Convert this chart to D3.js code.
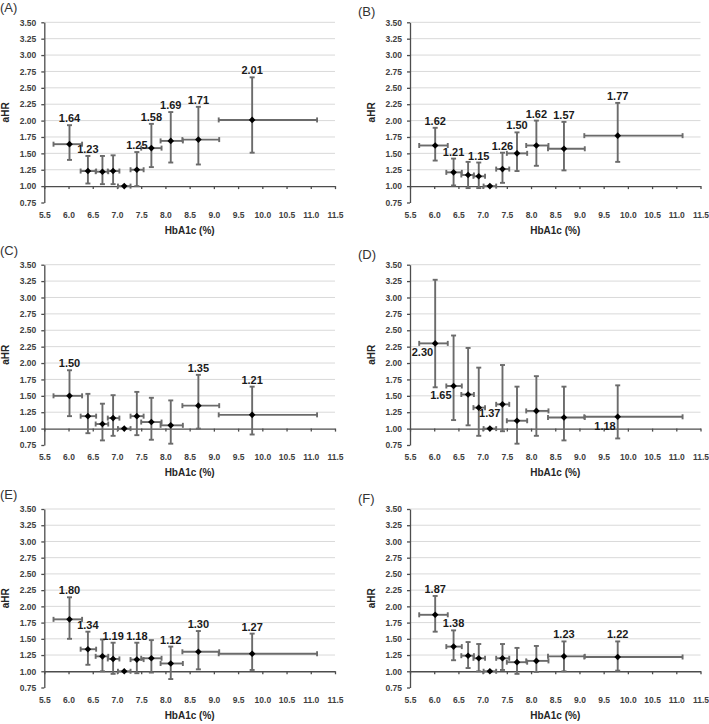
<!DOCTYPE html>
<html>
<head>
<meta charset="utf-8">
<script src="https://cdn.jsdelivr.net/npm/d3@7"></script>
<style>
body { margin: 0; background: #fff; }
svg { display: block; font-family: "Liberation Sans", Arial, sans-serif; }
</style>
</head>
<body>
<svg width="709" height="724"></svg>
<script>
// HbA1c categories (mean and range), shared by all panels
var hba1cMean = [6.02, 6.40, 6.70, 6.92, 7.15, 7.41, 7.71, 8.11, 8.68, 9.79];
var hba1cLo   = [5.69, 6.25, 6.56, 6.81, 7.02, 7.28, 7.50, 7.90, 8.35, 9.10];
var hba1cHi   = [6.28, 6.57, 6.82, 7.05, 7.28, 7.55, 7.92, 8.36, 9.11, 11.13];

var xTicks = [5.5, 6.0, 6.5, 7.0, 7.5, 8.0, 8.5, 9.0, 9.5, 10.0, 10.5, 11.0, 11.5];
var yTicks = [0.75, 1.00, 1.25, 1.50, 1.75, 2.00, 2.25, 2.50, 2.75, 3.00, 3.25, 3.50];
var panelNames = ["(A)", "(B)", "(C)", "(D)", "(E)", "(F)"];

var ahrA = [1.64, 1.23, 1.22, 1.23, 1.00, 1.25, 1.58, 1.69, 1.71, 2.01];
var loA  = [1.40, 1.04, 1.03, 1.03, 1.00, 1.00, 1.29, 1.36, 1.33, 1.51];
var hiA  = [1.93, 1.46, 1.46, 1.47, 1.00, 1.52, 1.95, 2.13, 2.21, 2.66];
var labA = [0, 1, 5, 6, 7, 8, 9];

var ahrB = [1.62, 1.21, 1.17, 1.15, 1.00, 1.26, 1.50, 1.62, 1.57, 1.77];
var loB  = [1.39, 1.01, 0.97, 0.97, 1.00, 1.05, 1.23, 1.31, 1.24, 1.37];
var hiB  = [1.89, 1.42, 1.37, 1.36, 1.00, 1.51, 1.82, 2.00, 1.98, 2.27];
var labB = [0, 1, 3, 5, 6, 7, 8, 9];

var ahrC = [1.50, 1.19, 1.07, 1.16, 1.00, 1.19, 1.10, 1.05, 1.35, 1.21];
var loC  = [1.19, 0.93, 0.82, 0.89, 1.00, 0.90, 0.83, 0.77, 1.00, 0.91];
var hiC  = [1.89, 1.53, 1.38, 1.51, 1.00, 1.56, 1.47, 1.43, 1.82, 1.64];
var labC = [0, 8, 9];

var ahrD = [2.30, 1.65, 1.52, 1.32, 1.00, 1.37, 1.12, 1.27, 1.17, 1.18];
var loD  = [1.63, 1.13, 1.05, 0.89, 1.00, 0.96, 0.77, 0.89, 0.82, 0.85];
var hiD  = [3.27, 2.42, 2.23, 1.93, 1.00, 1.97, 1.64, 1.80, 1.64, 1.66];
var labD = [0, 1, 5, 9];

var ahrE = [1.80, 1.34, 1.23, 1.19, 1.00, 1.18, 1.20, 1.12, 1.30, 1.27];
var loE  = [1.50, 1.10, 1.00, 0.96, 1.00, 0.97, 0.98, 0.88, 1.03, 1.02];
var hiE  = [2.14, 1.61, 1.49, 1.44, 1.00, 1.44, 1.48, 1.38, 1.62, 1.58];
var labE = [0, 1, 3, 5, 7, 8, 9];

var ahrF = [1.87, 1.38, 1.24, 1.20, 1.00, 1.20, 1.14, 1.16, 1.23, 1.22];
var loF  = [1.61, 1.17, 1.05, 1.00, 1.00, 1.02, 0.96, 0.99, 1.00, 1.01];
var hiF  = [2.16, 1.63, 1.45, 1.42, 1.00, 1.42, 1.36, 1.39, 1.46, 1.46];
var labF = [0, 1, 8, 9];

var panels = [
    { ahr: ahrA, lo: loA, hi: hiA, labels: labA },
    { ahr: ahrB, lo: loB, hi: hiB, labels: labB },
    { ahr: ahrC, lo: loC, hi: hiC, labels: labC },
    { ahr: ahrD, lo: loD, hi: hiD, labels: labD, below: true },
    { ahr: ahrE, lo: loE, hi: hiE, labels: labE },
    { ahr: ahrF, lo: loF, hi: hiF, labels: labF }
];

var svg = d3.select("svg");
var colX = [[44.3, 335], [410, 700.5]];
var rowY = [[22.3, 202.5], [264.7, 445], [509, 687.5]];
var barColor = "#6b6b6b";
var axisColor = "#4d4d4d";
var cap = 2.5;
var fmt2 = d3.format(".2f");

svg.append("rect").attr("width", 709).attr("height", 724).attr("fill", "#fff");

panels.forEach(function (p, i) {
    var col = i % 2, row = Math.floor(i / 2);
    var x = d3.scaleLinear().domain([5.5, 11.5]).range(colX[col]);
    var y = d3.scaleLinear().domain([0.75, 3.5]).range([rowY[row][1], rowY[row][0]]);
    var g = svg.append("g");

    var pts = hba1cMean.map(function (m, k) {
        return { x: m, xlo: hba1cLo[k], xhi: hba1cHi[k], y: p.ahr[k], lo: p.lo[k], hi: p.hi[k], k: k };
    });

    // gridlines
    g.append("g").selectAll("line")
        .data(yTicks.filter(function (t) { return t > 1; }))
        .enter().append("line")
        .attr("x1", x(5.5)).attr("x2", x(11.5))
        .attr("y1", function (d) { return y(d); })
        .attr("y2", function (d) { return y(d); })
        .attr("stroke", "#d9d9d9").attr("stroke-width", 1);

    // y axis
    var ya = g.append("g")
        .attr("transform", "translate(" + x(5.5) + ",0)")
        .call(d3.axisLeft(y).tickValues(yTicks).tickFormat(fmt2).tickSize(3).tickSizeOuter(0).tickPadding(5));

    // x axis line crossing at aHR = 1.00
    var xa = g.append("g")
        .attr("transform", "translate(0," + y(1) + ")")
        .call(d3.axisBottom(x).tickValues(xTicks).tickFormat("").tickSize(3).tickSizeOuter(0));

    // x tick labels placed low
    var xl = g.append("g")
        .attr("transform", "translate(0," + y(0.75) + ")")
        .call(d3.axisBottom(x).tickValues(xTicks).tickFormat(d3.format(".1f")).tickSize(0).tickPadding(9));
    xl.select(".domain").remove();

    [ya, xa, xl].forEach(function (a) {
        a.selectAll(".domain, line").attr("stroke", axisColor).attr("stroke-width", 1.3);
        a.selectAll("text").attr("fill", "#404040").style("font-size", "8.5px").style("font-weight", "bold");
    });

    // horizontal error bars
    var hb = g.append("g").attr("stroke", barColor).attr("stroke-width", 1.9);
    hb.selectAll(".hbar").data(pts).enter().append("line")
        .attr("x1", function (d) { return x(d.xlo); })
        .attr("x2", function (d) { return x(d.xhi); })
        .attr("y1", function (d) { return y(d.y); })
        .attr("y2", function (d) { return y(d.y); });
    hb.selectAll(".hcapL").data(pts).enter().append("line")
        .attr("x1", function (d) { return x(d.xlo); })
        .attr("x2", function (d) { return x(d.xlo); })
        .attr("y1", function (d) { return y(d.y) - cap; })
        .attr("y2", function (d) { return y(d.y) + cap; });
    hb.selectAll(".hcapR").data(pts).enter().append("line")
        .attr("x1", function (d) { return x(d.xhi); })
        .attr("x2", function (d) { return x(d.xhi); })
        .attr("y1", function (d) { return y(d.y) - cap; })
        .attr("y2", function (d) { return y(d.y) + cap; });

    // vertical error bars (reference category has none)
    var vpts = pts.filter(function (d) { return d.hi > d.lo; });
    var vb = g.append("g").attr("stroke", barColor).attr("stroke-width", 1.9);
    vb.selectAll(".vbar").data(vpts).enter().append("line")
        .attr("x1", function (d) { return x(d.x); })
        .attr("x2", function (d) { return x(d.x); })
        .attr("y1", function (d) { return y(d.lo); })
        .attr("y2", function (d) { return y(d.hi); });
    vb.selectAll(".vcapT").data(vpts).enter().append("line")
        .attr("x1", function (d) { return x(d.x) - cap; })
        .attr("x2", function (d) { return x(d.x) + cap; })
        .attr("y1", function (d) { return y(d.hi); })
        .attr("y2", function (d) { return y(d.hi); });
    vb.selectAll(".vcapB").data(vpts).enter().append("line")
        .attr("x1", function (d) { return x(d.x) - cap; })
        .attr("x2", function (d) { return x(d.x) + cap; })
        .attr("y1", function (d) { return y(d.lo); })
        .attr("y2", function (d) { return y(d.lo); });

    // diamonds
    g.append("g").selectAll("path").data(pts).enter().append("path")
        .attr("d", d3.symbol(d3.symbolSquare, 22))
        .attr("transform", function (d) { return "translate(" + x(d.x) + "," + y(d.y) + ") rotate(45)"; })
        .attr("fill", "#000");

    // value labels
    var lpts = pts.filter(function (d) { return p.labels.indexOf(d.k) >= 0; });
    g.append("g").selectAll("text").data(lpts).enter().append("text")
        .attr("x", function (d) { return p.below ? x(d.x) - 2 : x(d.x); })
        .attr("y", function (d) { return p.below ? y(d.y) + 13 : y(d.hi) - 3; })
        .attr("text-anchor", p.below ? "end" : "middle")
        .attr("fill", "#1a1a1a")
        .style("font-size", "11px").style("font-weight", "bold")
        .text(function (d) { return fmt2(d.y); });

    // axis titles
    var midY = (rowY[row][0] + rowY[row][1]) / 2;
    g.append("text")
        .attr("transform", "translate(" + (colX[col][0] - 35.5) + "," + midY + ") rotate(-90)")
        .attr("text-anchor", "middle")
        .attr("fill", "#262626")
        .style("font-size", "10px").style("font-weight", "bold")
        .text("aHR");
    g.append("text")
        .attr("x", (colX[col][0] + colX[col][1]) / 2)
        .attr("y", rowY[row][1] + 31)
        .attr("text-anchor", "middle")
        .attr("fill", "#262626")
        .style("font-size", "10px").style("font-weight", "bold")
        .text("HbA1c (%)");

    // panel letter
    g.append("text")
        .attr("x", col === 0 ? 0 : 358)
        .attr("y", rowY[row][0] - (col === 0 ? 10 : 6))
        .attr("fill", "#333")
        .style("font-size", "13px")
        .text(panelNames[i]);
});
</script>
</body>
</html>
